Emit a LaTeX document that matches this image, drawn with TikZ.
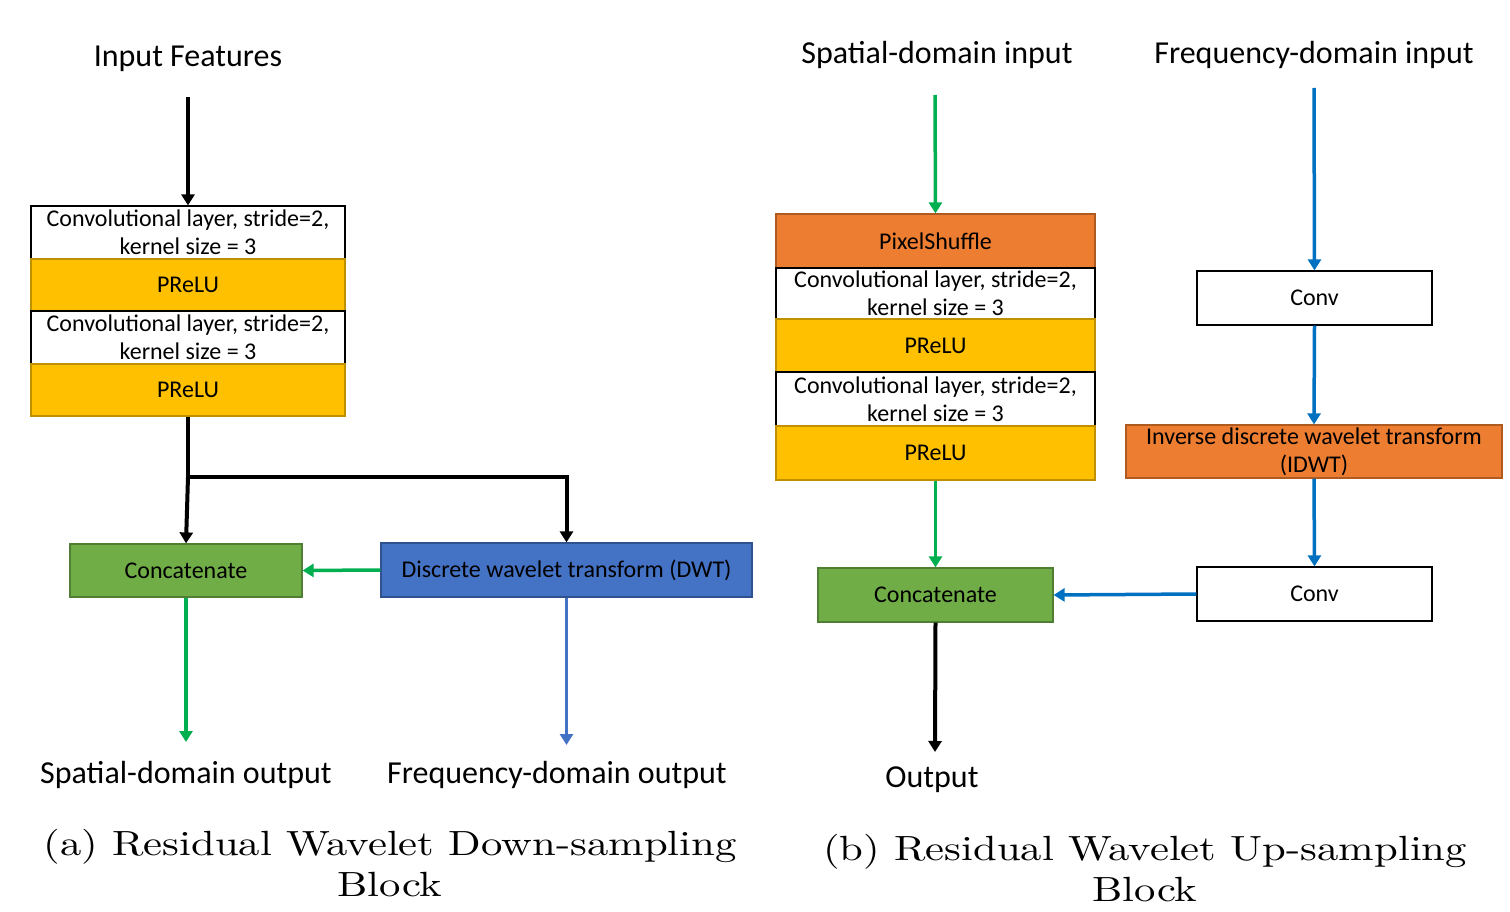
\documentclass[tikz,border=0pt]{standalone}
\usepackage{fontspec}
\usepackage{graphicx}
\newfontfamily\carl{Carlito}
\newfontfamily\lmten{lmroman10-regular.otf}
\usetikzlibrary{arrows.meta}
\definecolor{preluY}{HTML}{FFC000}
\definecolor{preluB}{HTML}{BF9000}
\definecolor{concG}{HTML}{70AD47}
\definecolor{concB}{HTML}{507E32}
\definecolor{dwtF}{HTML}{4472C4}
\definecolor{dwtB}{HTML}{2F528F}
\definecolor{orF}{HTML}{ED7D31}
\definecolor{orB}{HTML}{AE5A21}
\definecolor{arrG}{HTML}{00B050}
\definecolor{arrB}{HTML}{0070C0}
\newcommand{\captwo}[2]{\lmten\fontsize{35}{41}\selectfont\scalebox{1.22}[1]{\begin{tabular}{@{}c@{}}#1\\#2\end{tabular}}}
\begin{document}
\begin{tikzpicture}[x=1pt,y=-1pt,
  blk/.style={rectangle, inner sep=0pt, align=center, font=\carl\fontsize{24}{28}\selectfont, line width=1.2pt},
  convbox/.style={blk, draw=black, fill=white},
  prelubox/.style={blk, draw=preluB, fill=preluY},
  concbox/.style={blk, draw=concB, fill=concG},
  dwtbox/.style={blk, draw=dwtB, fill=dwtF},
  orbox/.style={blk, draw=orB, fill=orF},
  lbl/.style={inner sep=0pt, font=\carl\fontsize{32}{38}\selectfont},
  captxt/.style={inner sep=0pt},
  tip/.style={-{Triangle[width=13pt,length=11pt]}},
  blackarr/.style={tip, line width=4pt, draw=black},
  greenarr/.style={tip, line width=3.5pt, draw=arrG, fill=arrG},
  bluearr/.style={tip, line width=3.5pt, draw=arrB, fill=arrB},
  blue2arr/.style={tip, line width=3pt, draw=dwtF, fill=dwtF},
]
\useasboundingbox (0,0) rectangle (1510,912);

% ---------- (a) ----------
\node[lbl] (inF) at (188,59) {Input Features};
\coordinate (inFa) at (188,97);
\node[convbox, minimum width=314pt, minimum height=53pt] (c1) at (188,232.5) {Convolutional layer, stride=2,\\kernel size = 3};
\node[prelubox, minimum width=314pt, minimum height=52pt] (p1) at (188,285) {PReLU};
\node[convbox, minimum width=314pt, minimum height=53pt] (c2) at (188,337.5) {Convolutional layer, stride=2,\\kernel size = 3};
\node[prelubox, minimum width=314pt, minimum height=52pt] (p2) at (188,390) {PReLU};
\node[concbox, minimum width=232pt, minimum height=53pt] (catL) at (186,570.5) {Concatenate};
\node[dwtbox, minimum width=371pt, minimum height=54pt] (dwt) at (566.5,570) {Discrete wavelet transform (DWT)};
\coordinate (split) at (188,477);
\coordinate (soA) at (186,742);
\coordinate (foA) at (566.5,745);
\node[lbl] (so) at (186,775) {Spatial-domain output};
\node[lbl] (fo) at (557,775) {Frequency-domain output};
\node[captxt] (capA) at (390,868) {\captwo{(a) Residual Wavelet Down-sampling}{Block}};

\draw[blackarr] (inFa) -- (c1.north);
\draw[line width=4pt] (p2.south) -- (split);
\draw[blackarr] (split) -- (catL.north);
\draw[blackarr] (split) -| (dwt.north);
\draw[greenarr] (dwt.west) -- (catL.east);
\draw[greenarr] (catL.south) -- (soA);
\draw[blue2arr] (dwt.south) -- (foA);

% ---------- (b) ----------
\node[lbl] (sin) at (937,55) {Spatial-domain input};
\node[lbl] (fin) at (1314,55) {Frequency-domain input};
\coordinate (sinA) at (935,95);
\coordinate (finA) at (1314,88);
\node[orbox, minimum width=319pt, minimum height=54pt] (ps) at (935.5,241) {PixelShuffle};
\node[convbox, minimum width=319pt, minimum height=51pt] (c3) at (935.5,293.5) {Convolutional layer, stride=2,\\kernel size = 3};
\node[prelubox, minimum width=319pt, minimum height=53pt] (p3) at (935.5,345.5) {PReLU};
\node[convbox, minimum width=319pt, minimum height=54pt] (c4) at (935.5,399) {Convolutional layer, stride=2,\\kernel size = 3};
\node[prelubox, minimum width=319pt, minimum height=54pt] (p4) at (935.5,453) {PReLU};
\node[concbox, minimum width=235pt, minimum height=54pt] (catR) at (935.5,595) {Concatenate};
\coordinate (outA) at (935,752);
\node[lbl] (out) at (932,780) {Output};
\node[convbox, minimum width=235pt, minimum height=54pt] (cv1) at (1314.5,298) {Conv};
\node[orbox, minimum width=376pt, minimum height=53pt] (idwt) at (1314,451.5) {Inverse discrete wavelet transform\\(IDWT)};
\node[convbox, minimum width=235pt, minimum height=54pt] (cv2) at (1314.5,594) {Conv};
\node[captxt] (capB) at (1145,873) {\captwo{(b) Residual Wavelet Up-sampling}{Block}};

\draw[greenarr] (sinA) -- (ps.north);
\draw[greenarr] (p4.south) -- (catR.north);
\draw[blackarr] (catR.south) -- (outA);
\draw[bluearr] (finA) -- (cv1.north);
\draw[bluearr] (cv1.south) -- (idwt.north);
\draw[bluearr] (idwt.south) -- (cv2.north);
\draw[bluearr] (cv2.west) -- (catR.east);
\end{tikzpicture}
\end{document}
